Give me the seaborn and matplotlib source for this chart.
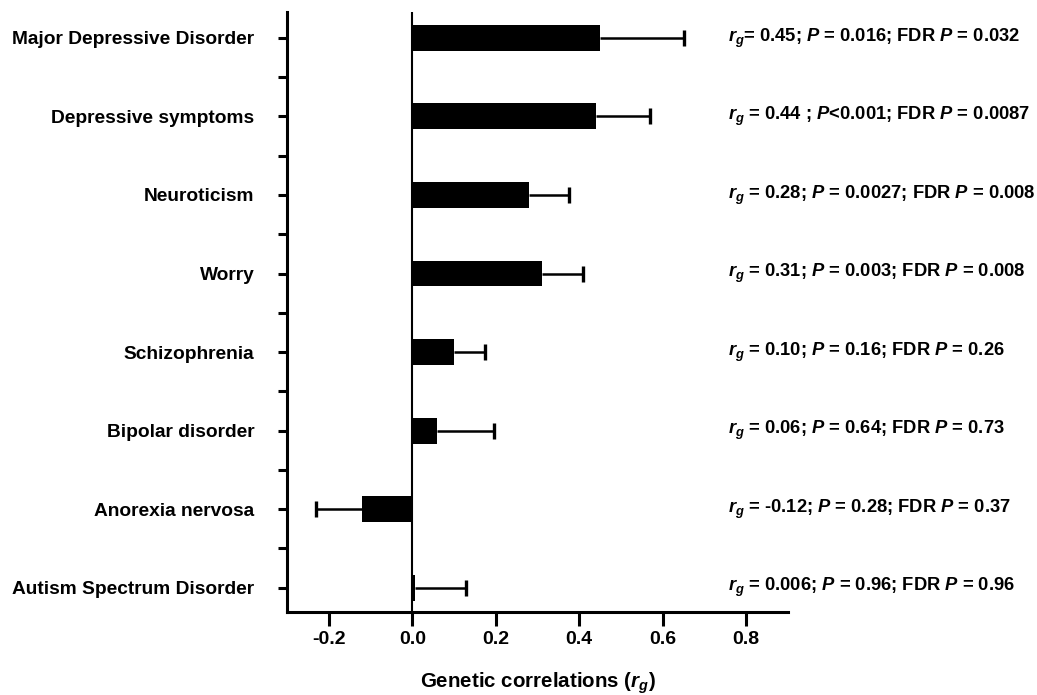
import numpy as np
import pandas as pd
import seaborn as sns
from matplotlib import pyplot as plt

# values
traits = ['Major Depressive Disorder', 'Depressive symptoms', 'Neuroticism', 'Worry',
          'Schizophrenia', 'Bipolar disorder', 'Anorexia nervosa', 'Autism Spectrum Disorder']
rg = [0.45, 0.44, 0.28, 0.31, 0.10, 0.06, -0.12, 0.006]
rg_err = [0.20, 0.13, 0.095, 0.10, 0.075, 0.135, 0.11, 0.122]
stats_text = [
    r'$r_g$= 0.45; $P$ = 0.016; FDR $P$ = 0.032',
    r'$r_g$ = 0.44 ; $P$<0.001; FDR $P$ = 0.0087',
    r'$r_g$ = 0.28; $P$ = 0.0027; FDR $P$ = 0.008',
    r'$r_g$ = 0.31; $P$ = 0.003; FDR $P$ = 0.008',
    r'$r_g$ = 0.10; $P$ = 0.16; FDR $P$ = 0.26',
    r'$r_g$ = 0.06; $P$ = 0.64; FDR $P$ = 0.73',
    r'$r_g$ = -0.12; $P$ = 0.28; FDR $P$ = 0.37',
    r'$r_g$ = 0.006; $P$ = 0.96; FDR $P$ = 0.96',
]

df = pd.DataFrame({'trait': traits, 'rg': rg, 'err': rg_err})

sns.set_style('white')
plt.rcParams['font.family'] = ['Liberation Sans', 'DejaVu Sans']
plt.rcParams['font.weight'] = 'bold'
plt.rcParams['text.color'] = 'black'
plt.rcParams['axes.labelcolor'] = 'black'
plt.rcParams['mathtext.fontset'] = 'custom'
plt.rcParams['mathtext.rm'] = 'Liberation Sans:bold'
plt.rcParams['mathtext.it'] = 'Liberation Sans:italic:bold'
plt.rcParams['mathtext.bf'] = 'Liberation Sans:bold'

fig = plt.figure(figsize=(10.37, 6.95), dpi=100)
ax = fig.add_axes([287 / 1037, 83 / 695, 501 / 1037, 600 / 695])

sns.barplot(data=df, x='rg', y='trait', color='black', saturation=1, width=0.33,
            errorbar=None, linewidth=0, ax=ax)

# one-sided error bars pointing away from zero, cap only at the far end
y = np.arange(len(df))
lower = np.where(df['rg'] < 0, df['err'], 0)
upper = np.where(df['rg'] < 0, 0, df['err'])
ax.errorbar(df['rg'], y, xerr=[lower, upper], fmt='none', ecolor='black',
            elinewidth=1.8, capsize=0, zorder=3)
ends = np.where(df['rg'] < 0, df['rg'] - df['err'], df['rg'] + df['err'])
ax.plot(ends, y, ls='none', marker='|', color='black', markersize=11, mew=2.4, zorder=3)

ax.axvline(0, color='black', lw=1.5, zorder=4)

for i, t in enumerate(stats_text):
    ax.text(0.756, i, t, ha='left', va='center', fontsize=13.2, fontweight='bold',
            color='black', clip_on=False)

ax.set_xlim(-0.3, 0.9)
ax.set_ylim(7.31, -0.33)
ax.set_xticks([-0.2, 0.0, 0.2, 0.4, 0.6, 0.8])
ax.set_xticklabels(['-0.2', '0.0', '0.2', '0.4', '0.6', '0.8'])
ax.set_yticks(y)
ax.set_yticks(y[:-1] + 0.5, minor=True)

sns.despine(ax=ax)
for side in ['left', 'bottom']:
    ax.spines[side].set_linewidth(2.2)
    ax.spines[side].set_color('black')

ax.tick_params(axis='x', which='major', length=10, width=2.2, direction='out',
               labelsize=14, pad=4, bottom=True, colors='black')
ax.tick_params(axis='y', which='both', length=6.5, width=2.2, direction='out',
               left=True, colors='black')
ax.tick_params(axis='y', which='major', labelsize=13.8, pad=17)
for lbl in ax.get_xticklabels() + ax.get_yticklabels():
    lbl.set_fontweight('bold')

ax.set_ylabel('')
ax.set_xlabel(r'Genetic correlations ($r_g$)', fontsize=14.8, fontweight='bold', labelpad=16)
ax.grid(False)

fig.savefig('out.png', dpi=100)
